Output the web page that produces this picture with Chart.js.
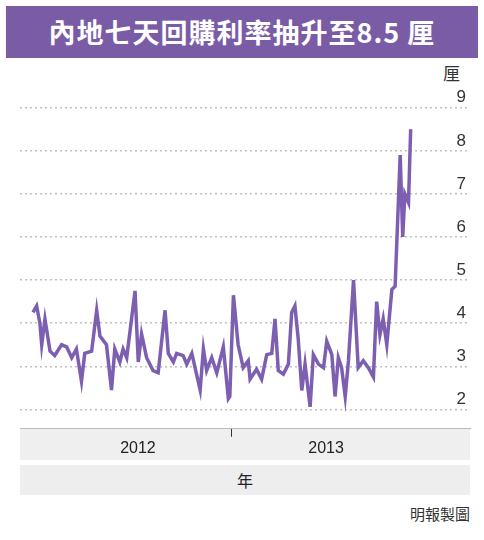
<!DOCTYPE html>
<html><head><meta charset="utf-8">
<script src="https://cdn.jsdelivr.net/npm/chart.js@4/dist/chart.umd.min.js"></script>
<style>
body{margin:0;width:484px;height:540px;background:#fff;font-family:"Noto Sans CJK TC",sans-serif;position:relative;overflow:hidden}
#title{position:absolute;left:6px;top:6px;width:472px;height:52px;background:#7a5ca6;color:#fff;font-size:27px;font-weight:bold;line-height:52px;text-align:center;letter-spacing:1px}
#unit{position:absolute;left:443px;top:60px;font-size:17px;color:#333}
#wrap{position:absolute;left:0;top:80px;width:484px;height:380px}
#band{position:absolute;left:20px;top:465px;width:450px;height:30px;background:#eeeeee;text-align:center;line-height:30px;font-size:16px;color:#222}
#credit{position:absolute;right:14px;top:503px;font-size:15px;color:#333}
</style></head><body>
<div id="title">內地七天回購利率抽升至8.5 厘</div>
<div id="unit">厘</div>
<div id="wrap"><canvas id="c"></canvas></div>
<div id="band">年</div>
<div id="credit">明報製圖</div>
<script>
// week index counted from start of 2012
const weeks = [-3.0,-2.0,-1.1,-0.6,0.3,1.7,3.0,4.9,6.3,7.7,9.0,10.4,11.3,13.2,14.6,15.5,17.3,18.7,19.6,21.0,21.9,22.9,25.2,26.1,27.0,28.4,30.2,31.6,33.5,34.4,35.8,36.7,38.5,39.5,40.9,43.2,44.1,45.0,46.4,47.8,48.7,49.6,51.0,51.4,52.4,53.7,55.1,56.5,57.0,58.8,60.2,61.6,63.0,63.9,64.8,66.2,67.6,68.5,69.4,70.3,71.3,72.2,73.6,74.5,75.9,77.3,78.2,79.6,80.5,81.4,82.3,83.3,84.2,85.6,86.9,88.3,89.7,91.1,92.0,92.9,93.8,94.8,96.2,97.1,98.5,99.2,99.8,100.8,101.4];
const rates = [4.25,4.4,4.0,3.5,4.1,3.35,3.25,3.5,3.45,3.2,3.4,2.65,3.3,3.35,4.3,3.7,3.5,2.45,3.4,3.1,3.4,3.2,4.75,3.1,3.75,3.2,2.9,2.85,4.3,3.3,3.1,3.3,3.25,3.05,3.3,2.45,3.4,2.9,3.2,2.85,3.15,3.45,2.25,2.3,4.65,3.5,2.97,3.13,2.7,2.93,2.7,3.27,3.3,4.1,2.9,2.82,3.05,4.25,4.4,3.65,2.44,3.05,2.06,3.27,3.05,2.97,3.58,3.27,2.3,3.2,2.97,2.3,3.13,5.0,2.97,3.13,2.97,2.75,4.5,3.73,4.1,3.5,4.78,4.86,7.9,6.0,7.0,6.8,8.5];
const yearTicks = [26, 52, 78];
const yearLabels = {26: '2012', 52: '', 78: '2013'};
const rateTicks = [2, 3, 4, 5, 6, 7, 8, 9];

new Chart(document.getElementById('c'), {
  type: 'line',
  data: {
    datasets: [{
      data: weeks.map((w, i) => ({x: w, y: rates[i]})),
      borderColor: '#7d5fb2',
      borderWidth: 3.5,
      pointRadius: 0,
      tension: 0
    }]
  },
  options: {
    animation: false,
    maintainAspectRatio: false,
    layout: {padding: {left: 20, right: 14, top: 5, bottom: 0}},
    plugins: {legend: {display: false}, tooltip: {enabled: false}},
    scales: {
      x: {
        type: 'linear', min: -6.6, max: 117.8,
        afterBuildTicks: (s) => { s.ticks = yearTicks.map(v => ({value: v})); },
        ticks: {callback: (v) => yearLabels[v], color: '#222', font: {size: 16, family: 'Liberation Sans'}, maxRotation: 0, padding: 2},
        grid: {drawOnChartArea: false, tickLength: 8, color: (c) => c.tick && c.tick.value === 52 ? '#333' : 'rgba(0,0,0,0)'},
        border: {color: '#bbb'}
      },
      y: {
        position: 'right', min: 1.55, max: 9.5,
        afterBuildTicks: (s) => { s.ticks = rateTicks.map(v => ({value: v})); },
        afterFit: (s) => { s.width = 0; },
        ticks: {mirror: true, padding: -4, color: '#333', font: {size: 17, family: 'Liberation Sans'}, labelOffset: -10},
        grid: {color: '#c0c0c0', lineWidth: 1.5, tickLength: 0, drawTicks: false},
        border: {display: false, dash: [2, 3]}
      }
    }
  },
  plugins: [{
    id: 'band',
    beforeDraw(chart) {
      const {ctx, chartArea: a, height} = chart;
      ctx.save();
      ctx.fillStyle = '#efefef';
      ctx.fillRect(a.left, a.bottom, a.right - a.left, height - a.bottom);
      ctx.restore();
    }
  }]
});
</script>
</body></html>
